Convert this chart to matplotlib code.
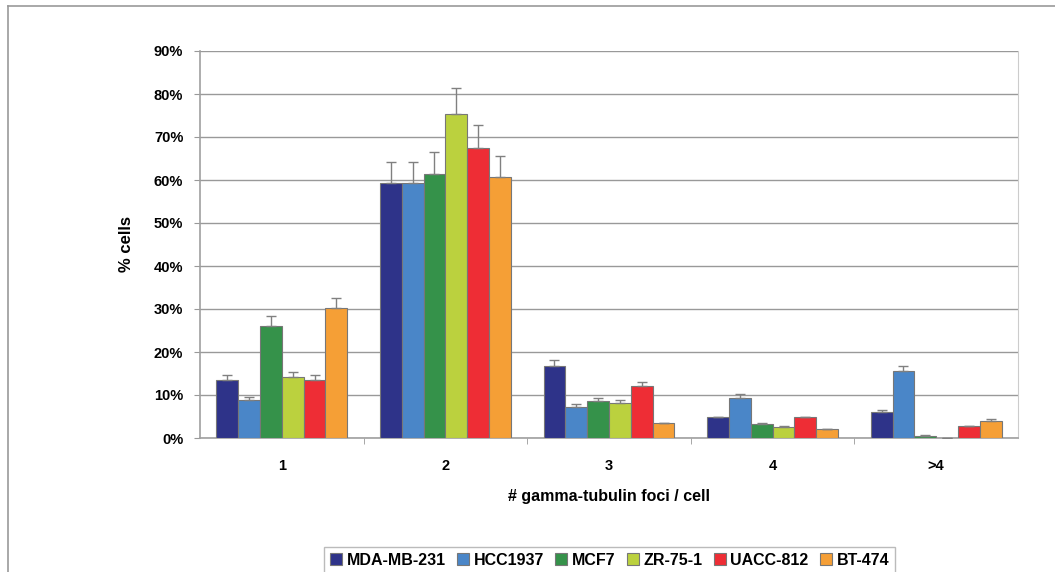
import numpy as np
import matplotlib
matplotlib.use("Agg")
import matplotlib.pyplot as plt
from matplotlib.lines import Line2D

plt.rcParams["font.family"] = ["Liberation Sans", "DejaVu Sans"]
plt.rcParams["font.weight"] = "bold"

categories = ["1", "2", "3", "4", ">4"]
cell_lines = ["MDA-MB-231", "HCC1937", "MCF7", "ZR-75-1", "UACC-812", "BT-474"]
colors = ["#2E3389", "#4A86C8", "#35924A", "#BBD13E", "#EE2D35", "#F59F36"]

# % cells per cell line, one value per category
values = {
    "MDA-MB-231": [13.5, 59.4, 16.7, 4.8, 6.0],
    "HCC1937":    [8.9, 59.4, 7.2, 9.3, 15.5],
    "MCF7":       [26.0, 61.5, 8.7, 3.3, 0.5],
    "ZR-75-1":    [14.3, 75.3, 8.1, 2.6, 0.0],
    "UACC-812":   [13.5, 67.4, 12.1, 4.8, 2.7],
    "BT-474":     [30.2, 60.8, 3.4, 2.0, 3.9],
}
errors = {
    "MDA-MB-231": [1.2, 4.7, 1.5, 0.2, 0.5],
    "HCC1937":    [0.6, 4.7, 0.8, 0.9, 1.3],
    "MCF7":       [2.4, 4.9, 0.6, 0.2, 0.1],
    "ZR-75-1":    [1.0, 6.2, 0.7, 0.15, 0.0],
    "UACC-812":   [1.1, 5.4, 1.0, 0.2, 0.2],
    "BT-474":     [2.4, 4.8, 0.2, 0.1, 0.45],
}

W, H = 1055, 572
fig = plt.figure(figsize=(W / 100, H / 100), dpi=100)

# outer chart frame (left and top edges visible)
fig.add_artist(Line2D([8 / W, 8 / W], [0, 1 - 6 / H], transform=fig.transFigure,
                      color="#999999", lw=1.2))
fig.add_artist(Line2D([8 / W, 1], [1 - 6 / H, 1 - 6 / H], transform=fig.transFigure,
                      color="#999999", lw=1.2))

ax = fig.add_axes([200 / W, 1 - 438 / H, (1018 - 200) / W, (438 - 51) / H])

x = np.arange(len(categories))
n = len(cell_lines)
bw = 0.8 / n
for i, name in enumerate(cell_lines):
    pos = x - 0.4 + bw * (i + 0.5)
    ax.bar(pos, values[name], width=bw, color=colors[i], edgecolor="#777777",
           linewidth=0.8, label=name, zorder=3)
    err = np.array(errors[name])
    ax.errorbar(pos, values[name], yerr=[np.zeros_like(err), err], fmt="none",
                ecolor="#808080", elinewidth=1, capsize=3.5, capthick=1, zorder=4)

ax.set_xlim(-0.5, len(categories) - 0.5)
ax.set_ylim(0, 90)
ax.set_yticks(np.arange(0, 91, 10))
ax.set_yticklabels([f"{v}%" for v in range(0, 91, 10)])
ax.yaxis.grid(True, color="#999999", lw=1)
ax.set_axisbelow(True)

ax.set_xticks(x)
ax.set_xticklabels(categories)
ax.set_xticks(np.arange(0.5, len(categories) - 0.5, 1), minor=True)
ax.tick_params(axis="x", which="major", length=0, pad=15, labelsize=10.5)
ax.tick_params(axis="x", which="minor", length=4, color="#999999", direction="out")
ax.tick_params(axis="y", length=4, color="#999999", labelsize=10.5, pad=8)

for s in ["left", "bottom"]:
    ax.spines[s].set_color("#a0a0a0")
    ax.spines[s].set_linewidth(1.2)
ax.spines["right"].set_color("#cccccc")
ax.spines["top"].set_visible(False)

ax.set_ylabel("% cells", fontsize=12, fontweight="bold", labelpad=14)
fig.text(609 / W, 1 - 497 / H, "# gamma-tubulin foci / cell", ha="center",
         va="center", fontsize=11.5, fontweight="bold")

leg = fig.legend(loc="upper center", bbox_to_anchor=(609.5 / W, 1 - 547 / H),
                 ncol=n, frameon=True, fancybox=False, edgecolor="#aaaaaa",
                 fontsize=11.5, handlelength=0.75, handleheight=0.75,
                 handletextpad=0.3, columnspacing=0.7, borderaxespad=0,
                 borderpad=0.35)
leg.get_frame().set_linewidth(1)

fig.savefig("out.png", dpi=100)
